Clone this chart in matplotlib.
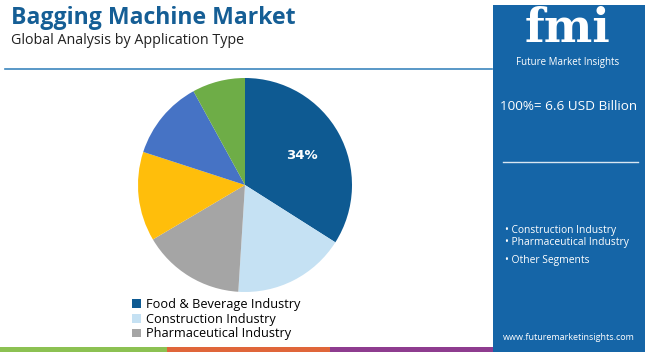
import matplotlib
matplotlib.use("Agg")
import matplotlib.pyplot as plt
from matplotlib.patches import Rectangle, Patch
from matplotlib.lines import Line2D

categories = ["Food & Beverage Industry", "Construction Industry", "Pharmaceutical Industry",
              "Chemical Industry", "Agriculture Industry", "Other Segments"]
shares = [34, 17, 15.5, 13.5, 12, 8]
colors = ["#0E5A92", "#C5E1F3", "#A5A5A5", "#FFBE0B", "#4673C5", "#6EAD47"]
legend_count = 3
panel_bullets = ["Construction Industry", "Pharmaceutical Industry", "Other Segments"]

W, H = 650, 352
fig = plt.figure(figsize=(W / 100, H / 100), dpi=100)
fig.patch.set_facecolor("white")
FONT = "Open Sans"

def fx(x):
    return x / W

def fy(y):
    return 1 - y / H

# title
fig.text(fx(11), fy(18), "Bagging Machine Market", fontsize=16.6, fontweight="bold",
         color="#155E95", family=FONT, va="center", ha="left")
fig.text(fx(11), fy(40), "Global Analysis by Application Type", fontsize=10.3,
         color="#222222", family=FONT, va="center", ha="left")
fig.add_artist(Line2D([fx(5), fx(492)], [fy(69), fy(69)], color="#3C86BE", lw=1.2))

# pie
cx, cy, r = 245, 185, 107
ax = fig.add_axes([fx(cx - r), fy(cy + r), 2 * r / W, 2 * r / H])
wedges, _ = ax.pie(shares, colors=colors, startangle=90, counterclock=False, radius=1,
                   wedgeprops=dict(linewidth=0))
ax.set_xlim(-1, 1)
ax.set_ylim(-1, 1)
ax.set_aspect("auto")
ax.axis("off")
ax.text(0.53, 0.28, f"{shares[0]:.0f}%", color="white", fontsize=9.5, fontweight="bold",
        ha="center", va="center", family="DejaVu Sans")

# legend
handles = [Patch(facecolor=colors[i], edgecolor="none") for i in range(legend_count)]
fig.legend(handles, categories[:legend_count], loc="upper left",
           bbox_to_anchor=(fx(126), fy(292)), frameon=False,
           handlelength=0.7, handleheight=0.7, handletextpad=0.4, labelspacing=0.12,
           borderpad=0, prop={"family": FONT, "size": 9.2})

# right panel
fig.add_artist(Rectangle((fx(493), fy(352)), (645 - 493) / W, (352 - 5) / H,
                         transform=fig.transFigure, facecolor="#1565A7", edgecolor="none"))
fig.text(fx(568), fy(29), "fmi", fontsize=33, fontweight="bold", color="white",
         family="DejaVu Serif", ha="center", va="center")
fig.text(fx(568), fy(62), "Future Market Insights", fontsize=7.0, color="white",
         family=FONT, ha="center", va="center")
fig.text(fx(569), fy(107), "100%= 6.6 USD Billion", fontsize=9.7, color="white",
         family=FONT, ha="center", va="center")
fig.add_artist(Line2D([fx(503), fx(638)], [fy(162), fy(162)], color="#D8E6F2", lw=1.0))
for i, b in enumerate(panel_bullets):
    yy = [230, 243, 260][i]
    fig.text(fx(505), fy(yy), "\u2022 " + b, fontsize=7.4, color="white",
             family=FONT, ha="left", va="center")
fig.text(fx(569), fy(337), "www.futuremarketinsights.com", fontsize=6.5, color="white",
         family=FONT, ha="center", va="center")

# bottom stripes
for x0, x1, c in [(0, 167, "#8CC152"), (167, 330, "#E0663A"), (330, 493, "#8E3C8F")]:
    fig.add_artist(Rectangle((fx(x0), 0), (x1 - x0) / W, 5 / H, transform=fig.transFigure,
                             facecolor=c, edgecolor="none"))

fig.savefig("out.png", dpi=100, facecolor="white")
